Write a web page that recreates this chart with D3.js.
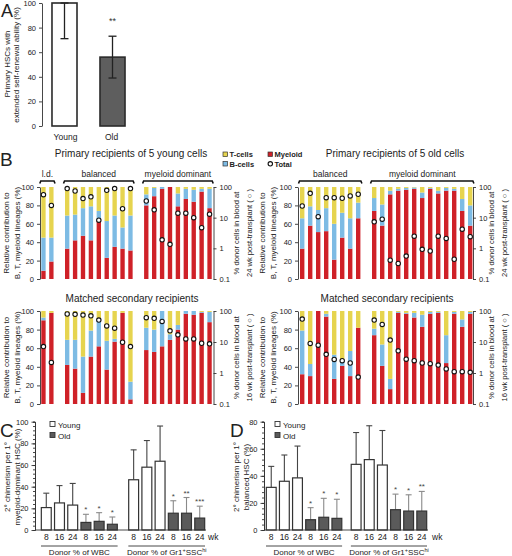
<!DOCTYPE html>
<html><head><meta charset="utf-8">
<script src="https://cdn.jsdelivr.net/npm/d3@7"></script>
<style>body{margin:0;background:#fff;}svg{display:block;}</style>
</head><body>
<script>
// ---------------- DATA ----------------
// Panel A
const aGroups = ["Young", "Old"];
const aValues = [100, 56];
const aErrLow = [71, 39];
const aErrHigh = [100, 73];
const aStars = ["", "**"];
const aTicks = [0, 20, 40, 60, 80, 100];

// Panel B – lineage keys
const lineageKeys = ["Myeloid", "B-cells", "T-cells"];
const pctTicks = [0, 20, 40, 60, 80, 100];
const logTicks = [0.1, 1, 10, 100];

// Primary recipients of 5 young cells
const ypGroups = ["l.d.", "balanced", "myeloid dominant"];
const ypSizes = [2, 9, 9];
const ypMyeloid = [9, 19, 33, 42, 47, 42, 64, 23, 35, 33, 31, 80, 90, 98, 100, 79, 87, 84, 95, 77];
const ypBcell = [36, 26, 36, 28, 30, 37, 10, 40, 34, 23, 38, 12, 9, 2, 0, 14, 11, 13, 3, 21];
const ypTcell = [55, 55, 31, 30, 23, 21, 26, 37, 31, 44, 31, 8, 1, 0, 0, 7, 2, 3, 2, 2];
const ypTotal = [56, 25, 89, 74, 42, 48, 8.3, 78, 89, 19.5, 89, 35, 18, 1.9, 1.35, 14, 14, 10, 4.7, 13];

// Matched secondary recipients (young)
const ysMyeloid = [90, 98, 42, 38, 12, 51, 62, 37, 67, 98, 5, 58, 56, 62, 69, 80, 97, 96, 98, 88];
const ysBcell = [3, 0, 27, 31, 39, 28, 30, 31, 3, 0, 19, 24, 24, 38, 6, 5, 3, 4, 1, 11];
const ysTcell = [7, 2, 31, 31, 49, 21, 8, 32, 30, 2, 76, 18, 20, 0, 25, 15, 0, 0, 1, 1];
const ysTotal = [7.1, 2.2, 80, 78, 74, 70, 51, 33, 28, 9.8, 7.1, 61, 58, 46, 23, 17, 12.6, 12.6, 9.1, 8.7];

// Primary recipients of 5 old cells
const opGroups = ["balanced", "myeloid dominant"];
const opSizes = [8, 13];
const opMyeloid = [33, 58, 51, 52, 21, 45, 33, 66, 74, 58, 92, 96, 97, 98, 88, 98, 93, 96, 96, 74, 58];
const opBcell = [33, 21, 24, 25, 39, 27, 33, 17, 14, 23, 4, 2, 2, 1.5, 6, 1, 3, 3, 2, 13, 22];
const opTcell = [34, 21, 25, 23, 40, 28, 34, 17, 12, 19, 4, 2, 1, 0.5, 6, 1, 4, 1, 2, 13, 20];
const opTotal = [24, 62, 10.8, 45, 45, 43, 51, 58, 7.3, 8.9, 0.41, 0.32, 0.56, 2.5, 0.93, 0.82, 2.5, 2.1, 0.44, 4.2, 2.4];

// Matched secondary recipients (old)
const osMyeloid = [32, 30, 100, 94, 27, 41, 30, 82, 74, 41, 16, 98, 97, 93, 83, 97, 98, 44, 97, 83, 97];
const osBcell = [47, 13, 0, 3, 26, 7, 27, 0, 7, 23, 11, 1, 1, 5, 13, 2, 1, 30, 2, 8, 2];
const osTcell = [21, 57, 0, 3, 47, 52, 43, 18, 19, 36, 73, 1, 2, 2, 4, 1, 1, 26, 1, 9, 1];
const osTotal = [55, 9, 7.9, 4, 2.75, 2.5, 2.1, 0.74, 51, 37, 11.5, 5.2, 2.8, 2.5, 2.1, 2.0, 1.8, 1.35, 1.1, 1.1, 1.05];

// Panels C / D
const cdTimes = ["8", "16", "24", "8", "16", "24"];
const cdAges = ["Young", "Young", "Young", "Old", "Old", "Old"];
const cdGroups = ["WBC", "Gr1"];
const cWbc = [20.7, 25, 23, 7, 8, 5.3];
const cWbcErr = [34, 41, 43, 14.5, 16, 12];
const cWbcStars = ["", "", "", "*", "*", "*"];
const cGr1 = [46.4, 58, 63.5, 15.5, 15.5, 11];
const cGr1Err = [74, 82.6, 96, 27, 30, 22];
const cGr1Stars = ["", "", "", "*", "**", "***"];
const cTicks = [0, 20, 40, 60, 80, 100];
const dWbc = [31.5, 36, 38.5, 7.6, 9.4, 8.6];
const dWbcErr = [47, 55.4, 62, 16.5, 23.4, 22.7];
const dWbcStars = ["", "", "", "*", "*", "*"];
const dGr1 = [48.5, 52, 48, 15, 14, 14];
const dGr1Err = [72, 77, 73.5, 26.5, 26, 28.5];
const dGr1Stars = ["", "", "", "*", "*", "**"];
const dTicks = [0, 20, 40, 60, 80];

// ---------------- DRAWING ----------------
const FONT = '"Liberation Sans", Arial, Helvetica, sans-serif';
const RED = "#cf2128", BLUE = "#7dbbe4", YELLOW = "#e6d44f";
const svg = d3.select("body").append("svg").attr("width", 512).attr("height", 556)
  .attr("font-family", FONT);

function styleAxis(g, fs) {
  g.attr("font-family", FONT);
  g.select(".domain").attr("stroke", "#333").attr("stroke-width", 0.9);
  g.selectAll(".tick line").attr("stroke", "#333").attr("stroke-width", 0.9);
  g.selectAll(".tick text").attr("font-size", fs).attr("fill", "#222");
}
function txt(x, y, s, fs, anchor = "middle", extra = {}) {
  const t = svg.append("text").attr("x", x).attr("y", y).attr("font-size", fs)
    .attr("text-anchor", anchor).attr("fill", "#222").text(s);
  Object.entries(extra).forEach(([k, v]) => t.attr(k, v));
  return t;
}
function vtxt(x, y, s, fs) {
  return svg.append("text").attr("transform", `translate(${x},${y}) rotate(-90)`)
    .attr("text-anchor", "middle").attr("dy", "0.35em").attr("font-size", fs)
    .attr("fill", "#222").text(s);
}

// Panel letters
txt(1, 16.5, "A", 18, "start");
txt(0, 166, "B", 19, "start");
txt(0, 437, "C", 19, "start");
txt(230, 437, "D", 19, "start");

// ---------- Panel A ----------
{
  const x = d3.scaleBand().domain(aGroups).range([42, 135]).paddingInner(0.479).paddingOuter(0.208);
  const y = d3.scaleLinear().domain([0, 100]).range([126, 3]);
  svg.append("g").selectAll("rect").data(aGroups).join("rect")
    .attr("x", d => x(d)).attr("width", x.bandwidth())
    .attr("y", (d, i) => y(aValues[i])).attr("height", (d, i) => y(0) - y(aValues[i]))
    .attr("fill", (d, i) => i === 0 ? "#fff" : "#5e5e5e")
    .attr("stroke", "#2a2a2a").attr("stroke-width", 1.6);
  const eg = svg.append("g").attr("stroke", "#222").attr("stroke-width", 1.3);
  aGroups.forEach((d, i) => {
    const cx = x(d) + x.bandwidth() / 2;
    eg.append("line").attr("x1", cx).attr("x2", cx).attr("y1", y(aErrLow[i])).attr("y2", y(aErrHigh[i]));
    eg.append("line").attr("x1", cx - 4).attr("x2", cx + 4).attr("y1", y(aErrLow[i])).attr("y2", y(aErrLow[i]));
    eg.append("line").attr("x1", cx - 4).attr("x2", cx + 4).attr("y1", y(aErrHigh[i])).attr("y2", y(aErrHigh[i]));
    if (aStars[i]) txt(cx, 24, aStars[i], 9, "middle", { fill: "#333" });
    txt(cx + (i === 0 ? 1 : -1), 140, d, 8.5);
  });
  const ax = svg.append("g").attr("transform", "translate(42,0)")
    .call(d3.axisLeft(y).tickValues(aTicks).tickSize(3).tickSizeOuter(0));
  styleAxis(ax, 7.5);
  vtxt(7, 64, "Primary HSCs with", 8);
  vtxt(16, 65, "extended self-renewal ability (%)", 8);
}

// ---------- Panel B ----------
function drawB(cfg) {
  const slots = []; let s = 0;
  cfg.sizes.forEach(n => { for (let i = 0; i < n; i++) slots.push(s++); s++; });
  const nSlots = s - 1;
  const x = d3.scaleBand().domain(d3.range(nSlots)).range(cfg.xRange).paddingInner(0.45).paddingOuter(0.225);
  const y = d3.scaleLinear().domain([0, 100]).range([cfg.yBot, cfg.yTop]);
  const yl = d3.scaleLog().domain([0.1, 100]).range([cfg.yBot, cfg.yTop]);
  const rows = cfg.M.map((m, i) => ({ slot: slots[i], "Myeloid": m, "B-cells": cfg.B[i], "T-cells": cfg.T[i], total: cfg.total[i] }));
  const stack = d3.stack().keys(lineageKeys)(rows);
  const col = { "Myeloid": RED, "B-cells": BLUE, "T-cells": YELLOW };
  const g = svg.append("g");
  g.selectAll("g").data(stack).join("g").attr("fill", d => col[d.key])
    .selectAll("rect").data(d => d).join("rect")
    .attr("x", d => x(d.data.slot)).attr("width", x.bandwidth())
    .attr("y", d => y(Math.min(100, d[1]))).attr("height", d => Math.max(0, y(d[0]) - y(Math.min(100, d[1]))));
  g.append("g").selectAll("circle").data(rows).join("circle")
    .attr("cx", d => x(d.slot) + x.bandwidth() / 2).attr("cy", d => yl(d.total)).attr("r", 2.2)
    .attr("fill", "#fff").attr("stroke", "#111").attr("stroke-width", 1.1);
  const al = svg.append("g").attr("transform", `translate(${cfg.axisL},0)`)
    .call(d3.axisLeft(y).tickValues(pctTicks).tickSize(3).tickSizeOuter(0));
  styleAxis(al, 7.5);
  const ar = svg.append("g").attr("transform", `translate(${cfg.axisR},0)`)
    .call(d3.axisRight(yl).tickValues(logTicks).tickFormat(d => d === 0.1 ? "0.1" : String(d)).tickSize(3).tickSizeOuter(0));
  styleAxis(ar, 7.5);
  if (cfg.groups) {
    let start = 0;
    cfg.groups.forEach((name, gi) => {
      const first = slots[start], last = slots[start + cfg.sizes[gi] - 1];
      start += cfg.sizes[gi];
      const x1 = x(first) - 1.5, x2 = x(last) + x.bandwidth() + 1.5, by = cfg.yTop - 6;
      svg.append("path").attr("d", `M${x1},${by + 2.5}L${x1 + 1},${by}L${x2 - 1},${by}L${x2},${by + 2.5}`)
        .attr("fill", "none").attr("stroke", "#111").attr("stroke-width", 1.6);
      txt((x1 + x2) / 2, by - 4, name, 8.5);
    });
  }
  txt(cfg.titleX, cfg.titleY, cfg.title, 10);
  const cy = (cfg.yTop + cfg.yBot) / 2;
  vtxt(cfg.leftLX[0], cy, "Relative contribution to", 8);
  vtxt(cfg.leftLX[1], cy, "B, T, myeloid lineages (%)", 8);
  vtxt(cfg.rightLX[0], cy, "% donor cells in blood at", 7.6);
  vtxt(cfg.rightLX[1], cy, cfg.rightL2, 7.6);
}

drawB({ sizes: ypSizes, groups: ypGroups, M: ypMyeloid, B: ypBcell, T: ypTcell, total: ypTotal,
  xRange: [39.5, 213.5], axisL: 40, axisR: 213.5, yTop: 187, yBot: 279,
  title: "Primary recipients of 5 young cells", titleX: 131, titleY: 157,
  leftLX: [6, 17], rightLX: [236.5, 249], rightL2: "24 wk post-transplant ( ○ )" });
drawB({ sizes: ypSizes, groups: null, M: ysMyeloid, B: ysBcell, T: ysTcell, total: ysTotal,
  xRange: [39.5, 213.5], axisL: 40, axisR: 213.5, yTop: 311, yBot: 404,
  title: "Matched secondary recipients", titleX: 132, titleY: 302,
  leftLX: [6, 17], rightLX: [236.5, 249], rightL2: "16 wk post-transplant ( ○ )" });
drawB({ sizes: opSizes, groups: opGroups, M: opMyeloid, B: opBcell, T: opTcell, total: opTotal,
  xRange: [298.2, 474.2], axisL: 298, axisR: 473, yTop: 187, yBot: 279,
  title: "Primary recipients of 5 old cells", titleX: 395, titleY: 157,
  leftLX: [262, 273], rightLX: [491, 504], rightL2: "24 wk post-transplant ( ○ )" });
drawB({ sizes: opSizes, groups: null, M: osMyeloid, B: osBcell, T: osTcell, total: osTotal,
  xRange: [298.2, 474.2], axisL: 298, axisR: 473, yTop: 311, yBot: 404,
  title: "Matched secondary recipients", titleX: 387, titleY: 302,
  leftLX: [262, 273], rightLX: [491, 504], rightL2: "16 wk post-transplant ( ○ )" });

// B legend
{
  const lg = svg.append("g");
  const items = [
    { k: "T-cells", x: 223, y: 152, c: YELLOW, t: "rect" },
    { k: "B-cells", x: 223, y: 161.5, c: BLUE, t: "rect" },
    { k: "Myeloid", x: 268, y: 152, c: RED, t: "rect" },
    { k: "Total", x: 268, y: 161.5, c: "#fff", t: "circle" }];
  items.forEach(d => {
    if (d.t === "rect") lg.append("rect").attr("x", d.x).attr("y", d.y).attr("width", 4.5).attr("height", 4.5)
      .attr("fill", d.c).attr("stroke", "#333").attr("stroke-width", 0.7);
    else lg.append("circle").attr("cx", d.x + 2.3).attr("cy", d.y + 2.3).attr("r", 2.2)
      .attr("fill", "#fff").attr("stroke", "#111").attr("stroke-width", 1.1);
    txt(d.x + 6.5, d.y + 5, d.k, 7.5, "start", { "font-weight": "bold" });
  });
}

// ---------- Panels C / D ----------
function drawCD(cfg) {
  const outer = d3.scaleBand().domain(cdGroups).range(cfg.xRange).paddingInner(cfg.padG).paddingOuter(0);
  const inner = d3.scaleBand().domain(d3.range(6)).range([0, outer.bandwidth()]).paddingInner(0.25).paddingOuter(0.1);
  const y = d3.scaleLinear().domain([0, cfg.max]).range([530, 421.7]);
  const g = svg.append("g");
  cdGroups.forEach((grp, gi) => {
    const vals = cfg.vals[gi], errs = cfg.errs[gi], stars = cfg.stars[gi];
    const gx = outer(grp);
    vals.forEach((v, i) => {
      const bx = gx + inner(i), cx = bx + inner.bandwidth() / 2;
      const old = cdAges[i] === "Old";
      const ec = old ? "#8a8a8a" : "#444";
      g.append("line").attr("x1", cx).attr("x2", cx).attr("y1", y(v)).attr("y2", y(errs[i]))
        .attr("stroke", ec).attr("stroke-width", 1.1);
      g.append("line").attr("x1", cx - 3).attr("x2", cx + 3).attr("y1", y(errs[i])).attr("y2", y(errs[i]))
        .attr("stroke", ec).attr("stroke-width", 1.1);
      g.append("rect").attr("x", bx).attr("width", inner.bandwidth()).attr("y", y(v)).attr("height", y(0) - y(v))
        .attr("fill", old ? "#5a5a5a" : "#fff").attr("stroke", "#333").attr("stroke-width", 1.2);
      if (stars[i]) txt(cx, y(errs[i]) - 2, stars[i], 8, "middle", { fill: "#444" });
      txt(cx, 540, cdTimes[i], 8.5);
    });
    const x1 = gx + 1, x2 = gx + outer.bandwidth() - 1;
    svg.append("line").attr("x1", x1).attr("x2", x2).attr("y1", 546).attr("y2", 546)
      .attr("stroke", "#333").attr("stroke-width", 0.9);
    const lab = txt((x1 + x2) / 2, 554.5, "", 8);
    if (grp === "WBC") lab.text("Donor % of WBC");
    else {
      lab.append("tspan").text("Donor % of Gr1");
      lab.append("tspan").attr("dy", -3).attr("font-size", 5.5).text("+");
      lab.append("tspan").attr("dy", 3).text("SSC");
      lab.append("tspan").attr("dy", -3).attr("font-size", 5.5).text("hi");
    }
  });
  // baseline
  svg.append("line").attr("x1", cfg.axisX).attr("x2", cfg.xRange[1]).attr("y1", 530).attr("y2", 530)
    .attr("stroke", "#333").attr("stroke-width", 0.9);
  txt(cfg.wkX, 540, "wk", 8.5, "start");
  const minor = svg.append("g").attr("transform", `translate(${cfg.axisX},0)`)
    .call(d3.axisLeft(y).tickValues(d3.range(0, cfg.max + 0.1, 4)).tickSize(2).tickFormat(""));
  styleAxis(minor, 7.5);
  const ax = svg.append("g").attr("transform", `translate(${cfg.axisX},0)`)
    .call(d3.axisLeft(y).tickValues(cfg.ticks).tickSize(3.5).tickSizeOuter(0));
  styleAxis(ax, 7.5);
  // legend
  const lx = cfg.legX;
  svg.append("rect").attr("x", lx).attr("y", 421.5).attr("width", 5).attr("height", 5)
    .attr("fill", "#fff").attr("stroke", "#333").attr("stroke-width", 0.9);
  svg.append("rect").attr("x", lx).attr("y", 432.5).attr("width", 5).attr("height", 5)
    .attr("fill", "#5a5a5a").attr("stroke", "#333").attr("stroke-width", 0.9);
  txt(lx + 8, 427.5, "Young", 8, "start");
  txt(lx + 8, 438.5, "Old", 8, "start");
  vtxt(cfg.ylX[0], 477, "2° chimerism per 1°", 8);
  vtxt(cfg.ylX[1], 477, cfg.ylab2, 8);
}

drawCD({ xRange: [40, 206], padG: 0.1, max: 100, ticks: cTicks, axisX: 35,
  vals: [cWbc, cGr1], errs: [cWbcErr, cGr1Err], stars: [cWbcStars, cGr1Stars],
  wkX: 208, legX: 50, ylX: [7, 17], ylab2: "myeloid-dominant HSC (%)" });
drawCD({ xRange: [265, 428], padG: 0.08, max: 80, ticks: dTicks, axisX: 264,
  vals: [dWbc, dGr1], errs: [dWbcErr, dGr1Err], stars: [dWbcStars, dGr1Stars],
  wkX: 432, legX: 275, ylX: [236, 246], ylab2: "balanced HSC (%)" });
</script>
</body></html>
